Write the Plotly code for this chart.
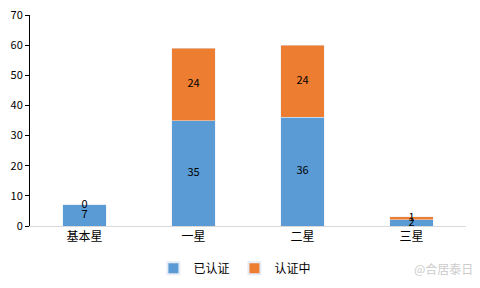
import plotly.graph_objects as go

categories = ["基本星", "一星", "二星", "三星"]
certified = [7, 35, 36, 2]
in_progress = [0, 24, 24, 1]
series_names = ["已认证", "认证中"]
colors = ["#5B9BD5", "#ED7D31"]
y_ticks = [0, 10, 20, 30, 40, 50, 60, 70]

font = "Noto Sans CJK SC, Microsoft YaHei, sans-serif"

fig = go.Figure()
fig.add_trace(go.Bar(x=categories, y=certified, name=series_names[0],
                     marker_color=colors[0], width=0.4))
fig.add_trace(go.Bar(x=categories, y=in_progress, name=series_names[1],
                     marker_color=colors[1], width=0.4))

mid1 = [v / 2 for v in certified]
mid2 = [a + b / 2 for a, b in zip(certified, in_progress)]
fig.add_trace(go.Scatter(x=categories, y=mid1, mode="text",
                         text=[str(v) for v in certified], showlegend=False,
                         textfont=dict(size=11, color="#000000", family=font),
                         hoverinfo="skip"))
fig.add_trace(go.Scatter(x=categories, y=mid2, mode="text",
                         text=[str(v) for v in in_progress], showlegend=False,
                         textfont=dict(size=11, color="#000000", family=font),
                         hoverinfo="skip"))

fig.update_layout(
    barmode="stack",
    width=480, height=288,
    margin=dict(l=30, r=14, t=15, b=62, autoexpand=False),
    paper_bgcolor="white", plot_bgcolor="white",
    font=dict(family=font, size=11, color="#000000"),
    legend=dict(orientation="h", x=0.47, xanchor="center", y=-0.2, yanchor="middle",
                font=dict(size=12), itemwidth=30, traceorder="normal",
                tracegroupgap=0, itemsizing="constant"),
    xaxis=dict(showline=True, linecolor="#D9D9D9", linewidth=1, ticks="",
               showgrid=False, tickfont=dict(size=12)),
    yaxis=dict(range=[0, 70], tickvals=y_ticks, showline=True, linecolor="#000000",
               linewidth=1, ticks="outside", ticklen=4, tickcolor="#000000",
               showgrid=False, zeroline=False, tickfont=dict(size=11)),
    annotations=[dict(text="@合居泰日", xref="paper", yref="paper", x=1.02, y=-0.2,
                      xanchor="right", yanchor="middle", showarrow=False,
                      font=dict(size=12, color="#CCCCCC"))],
)

fig.write_html("out.html")
